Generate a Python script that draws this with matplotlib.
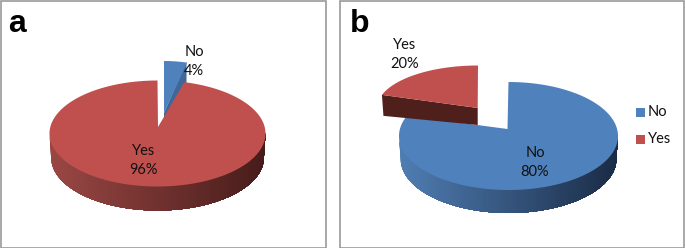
import numpy as np
import matplotlib
matplotlib.use('Agg')
import matplotlib.pyplot as plt
from matplotlib.patches import Rectangle
from matplotlib.colors import to_rgb

# percentages
labels_a = ['No', 'Yes']
values_a = [4, 96]
labels_b = ['No', 'Yes']
values_b = [80, 20]

BLUE = '#4F81BD'
RED = '#C0504D'
FONT = ['Lato', 'DejaVu Sans']


def rim(cx, cy, rx, ry, start, end, n=200):
    # angles in degrees, clockwise from 12 o'clock, y axis points down
    t = np.radians(np.linspace(start, end, n))
    return cx + rx * np.sin(t), cy - ry * np.cos(t)


def top_face(ax, cx, cy, rx, ry, start, end, apex, color):
    x, y = rim(cx, cy, rx, ry, start, end)
    ax.fill(np.r_[apex[0], x], np.r_[apex[1], y], color=color, lw=0, zorder=4)


def side_wall(ax, cx, cy, rx, ry, depth, left, right):
    # front of the disc, shaded from left to right
    # each piece reaches to the right end, so no seams show between them
    c0, c1 = np.array(to_rgb(left)), np.array(to_rgb(right))
    x_low, y_low = rim(cx, cy + depth, rx * 0.985, ry, 90, 270)
    x_up, y_up = rim(cx, cy, rx, ry, 90, 270)
    for i in range(199, 1, -2):
        f = (x_up[i] - (cx - rx)) / (2 * rx)
        ax.fill(np.r_[x_up[:i + 1], x_low[:i + 1][::-1]],
                np.r_[y_up[:i + 1], y_low[:i + 1][::-1]],
                color=c0 + (c1 - c0) * f, lw=0, zorder=3)


def label(ax, x, y, name, pct):
    ax.text(x, y, name, ha='center', va='center', fontsize=10.5, family=FONT, color='#111111', zorder=6)
    ax.text(x, y + 19, f'{pct}%', ha='center', va='center', fontsize=10.5, family=FONT, color='#111111', zorder=6)


fig = plt.figure(figsize=(6.85, 2.48), dpi=100)
ax = fig.add_axes([0, 0, 1, 1])
ax.set_xlim(0, 685)
ax.set_ylim(248, 0)
ax.axis('off')

# panel frames
ax.add_patch(Rectangle((0.5, 0.5), 326, 247, fc='white', ec='#999999', lw=1.2))
ax.add_patch(Rectangle((340.5, 0.5), 344, 247, fc='white', ec='#999999', lw=1.2))
ax.text(8, 24, 'a', fontsize=23, fontweight='bold', family='Liberation Sans', ha='left', va='center')
ax.text(350, 24, 'b', fontsize=23, fontweight='bold', family='Liberation Sans', ha='left', va='center')

# panel a: No slice is pulled out, drawn first so Yes covers it
no_a = values_a[0] / sum(values_a) * 360
ax.fill([186.5, 186.5, 164, 164], [62, 88, 137, 113], color='#3F6797', lw=0, zorder=2)
top_face(ax, 164, 113, 23 / np.sin(np.radians(no_a)), 52, 0, no_a, (164, 113), BLUE)
side_wall(ax, 157.5, 133.5, 108, 53, 24, '#9A4744', '#461C1A')
top_face(ax, 157.5, 133.5, 108, 53, no_a, 360, (158, 127), RED)
label(ax, 194, 52, labels_a[0], values_a[0])
label(ax, 144, 151, labels_a[1], values_a[1])

# panel b: Yes slice is pulled out and sits on top of the No wall
no_b = values_b[0] / sum(values_b) * 360
side_wall(ax, 508.5, 136, 109.5, 54, 23, '#4F7DB3', '#1A2B45')
# +4 degrees: the tilt makes the cut edge look steeper than the true angle
top_face(ax, 508.5, 136, 109.5, 54, 0, no_b + 4, (507.5, 129), BLUE)
x_r, y_r = rim(478, 108, 101, 42.5, no_b, 360)
ax.fill([x_r[0], x_r[0] + 1.5, 477.7, 477.7], [y_r[0], y_r[0] + 21, 125, 108],
        color='#4F1F1C', lw=0, zorder=5)
ax.fill(np.r_[477.7, x_r], np.r_[108, y_r], color=RED, lw=0, zorder=5)
label(ax, 405, 45, labels_b[1], values_b[1])
label(ax, 535, 153, labels_b[0], values_b[0])

# legend of panel b
for y, name, color in zip([112, 139], labels_b, [BLUE, RED]):
    ax.add_patch(Rectangle((636, y - 4.5), 9, 9, fc=color, ec='none', zorder=5))
    ax.text(648, y, name, ha='left', va='center', fontsize=10.5, family=FONT, color='#111111')

fig.savefig('out.png', dpi=100)
